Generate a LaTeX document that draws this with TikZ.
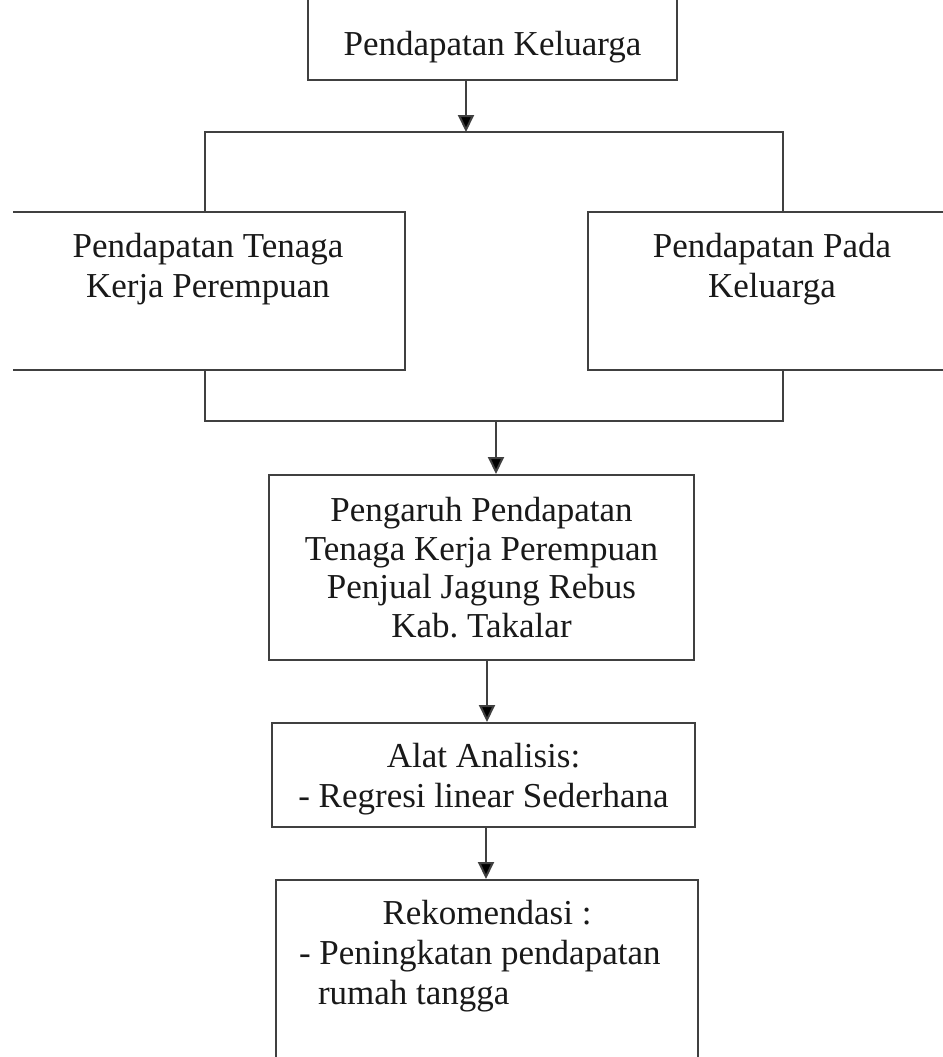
\documentclass[tikz,border=0pt]{standalone}
\usepackage{fontspec}
\setmainfont{Liberation Serif}
\usetikzlibrary{arrows.meta}
\definecolor{linegray}{RGB}{64,64,64}
\definecolor{textdark}{RGB}{25,25,25}
\newcommand{\boxtext}[4]{\parbox[c][#2][t]{#1}{\centering\rule{0pt}{#3}#4}}
\tikzset{
  boxline/.style={draw=linegray, line width=1pt, inner sep=0pt, text=textdark,
    font=\fontsize{17.5}{20}\selectfont},
  conn/.style={draw=linegray, line width=1pt},
  arr/.style={conn, -{Triangle[width=8pt,length=8.5pt,fill=black]}}
}
\begin{document}
\begin{tikzpicture}[x=0.5pt,y=-0.5pt]
\useasboundingbox (0,0) rectangle (943,1057);
\begin{scope}
\clip (13,0) rectangle (943,1057);
\node[boxline] (top) at (492.5,34) {\boxtext{184.5pt}{46pt}{33.5pt}{Pendapatan Keluarga}};
\node[boxline] (L) at (208,291) {\boxtext{197pt}{79pt}{22.5pt}{Pendapatan Tenaga\\Kerja Perempuan}};
\node[boxline] (R) at (772,291) {\boxtext{184pt}{79pt}{22.5pt}{Pendapatan Pada\\Keluarga}};
\node[boxline, font=\fontsize{17.5}{19.3}\selectfont] (M) at (481.5,567.5) {\boxtext{212.5pt}{92.5pt}{23.3pt}{Pengaruh Pendapatan\\Tenaga Kerja Perempuan\\Penjual Jagung Rebus\\Kab.\ Takalar}};
\node[boxline] (A) at (483.5,775) {\boxtext{211.5pt}{52pt}{22pt}{Alat Analisis:\\- Regresi linear Sederhana}};
\node[boxline] (Rk) at (487,977.5) {\parbox[c][97.5pt][t]{211pt}{\centering\rule{0pt}{22pt}Rekomendasi :\par\raggedright\hspace*{11.5pt}- Peningkatan pendapatan\\\hspace*{21pt}rumah tangga}};

\coordinate (j0) at (466,132);
\coordinate (a1) at (205,132);
\coordinate (a2) at (783,132);
\coordinate (b1) at (205,421);
\coordinate (b2) at (783,421);
\coordinate (b0) at (496,421);
\coordinate (c0) at (487,0);
\coordinate (d0) at (486,0);

\draw[arr] (top.south -| j0) -- (j0);
\draw[conn] (a1 |- L.north) -- (a1) -- (a2) -- (a2 |- R.north);
\draw[conn] (b1 |- L.south) -- (b1) -- (b2) -- (b2 |- R.south);
\draw[arr] (b0) -- (b0 |- M.north);
\draw[arr] (M.south -| c0) -- (A.north -| c0);
\draw[arr] (A.south -| d0) -- (Rk.north -| d0);
\end{scope}
\end{tikzpicture}
\end{document}
